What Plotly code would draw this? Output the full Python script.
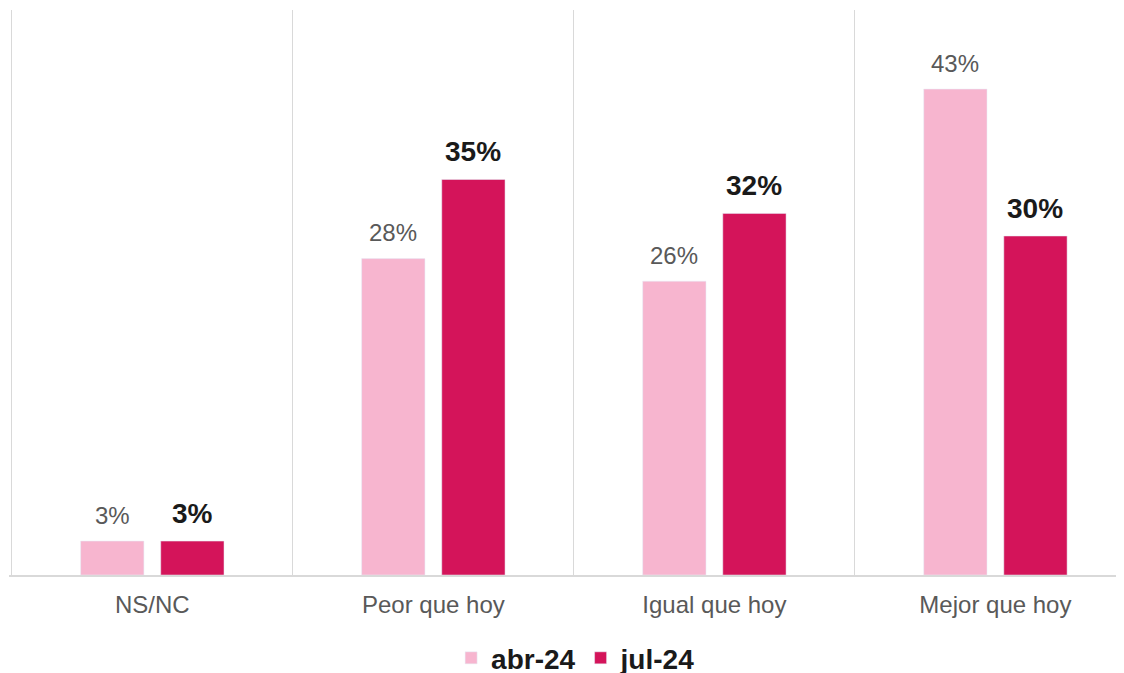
import plotly.graph_objects as go

categories = ["NS/NC", "Peor que hoy", "Igual que hoy", "Mejor que hoy"]
abr_24 = [3, 28, 26, 43]
jul_24 = [3, 35, 32, 30]

LIGHT = "#f7b5cf"
DARK = "#d4145a"
FONT = "Liberation Sans, Arial"

fig = go.Figure()
fig.add_trace(go.Bar(x=categories, y=abr_24, name="<b>abr-24</b>", marker=dict(color=LIGHT)))
fig.add_trace(go.Bar(x=categories, y=jul_24, name="<b>jul-24</b>", marker=dict(color=DARK)))

# value labels above the bars
for cat, v in zip(categories, abr_24):
    fig.add_annotation(x=cat, y=v, text=f"{v}%", showarrow=False,
                       xshift=-40, yshift=26, yanchor="middle",
                       font=dict(size=24, color="#595959", family=FONT))
for cat, v in zip(categories, jul_24):
    fig.add_annotation(x=cat, y=v, text=f"<b>{v}%</b>", showarrow=False,
                       xshift=40, yshift=28, yanchor="middle",
                       font=dict(size=28, color="#1a1a1a", family=FONT))

fig.update_layout(
    width=1124, height=673,
    margin=dict(l=1, r=0, t=2, b=106, autoexpand=False),
    plot_bgcolor="white", paper_bgcolor="white",
    barmode="group", bargap=0.43, bargroupgap=0.21,
    font=dict(family=FONT, color="#595959", size=24),
    showlegend=True,
    legend=dict(
        orientation="h", x=0.505, xanchor="center",
        yref="container", y=0.034, yanchor="middle",
        font=dict(size=28, color="#1a1a1a"),
        itemwidth=30,
    ),
)
fig.update_xaxes(
    type="category", range=[-0.51, 3.486],
    tickson="boundaries", ticks="", showgrid=True, gridcolor="#d9d9d9", gridwidth=1,
    showline=True, linecolor="#d9d9d9", linewidth=2,
    tickfont=dict(size=24, color="#595959"), ticklabelstandoff=7,
)
fig.update_yaxes(range=[0, 50], visible=False, showgrid=False, zeroline=False)

fig.write_html("out.html")
